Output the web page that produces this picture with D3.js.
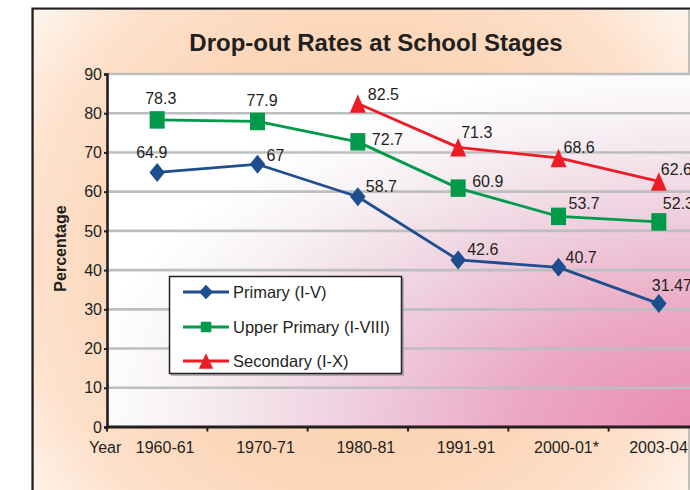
<!DOCTYPE html>
<html>
<head>
<meta charset="utf-8">
<script src="https://cdn.jsdelivr.net/npm/d3@7/dist/d3.min.js"></script>
<style>
  html, body { margin: 0; padding: 0; background: #ffffff; }
  svg { display: block; font-family: "Liberation Sans", Arial, sans-serif; }
</style>
</head>
<body>
<svg id="chart" width="690" height="490"></svg>
<script>
// ---------------- data ----------------
const categories = ["1960-61", "1970-71", "1980-81", "1991-91", "2000-01*", "2003-04"];
const primary      = [64.9, 67, 58.7, 42.6, 40.7, 31.47];
const upperPrimary = [78.3, 77.9, 72.7, 60.9, 53.7, 52.3];
const secondary    = [null, null, 82.5, 71.3, 68.6, 62.6];
const yTicks = [0, 10, 20, 30, 40, 50, 60, 70, 80, 90];
const seriesNames = ["Primary (I-V)", "Upper Primary (I-VIII)", "Secondary (I-X)"];
const title = "Drop-out Rates at School Stages";

// ---------------- layout / style ----------------
const colors = ["#1f4e8e", "#009a4a", "#ed1c24"];
const shapes = ["diamond", "square", "triangle"];
const ink = "#231f20";
// label nudges (text start x, baseline y) relative to each point
const labelNudge = [
  [[-21, -14], [9, -3], [8, -5], [9, -5], [7, -4], [-7, -13]],
  [[-12, -16], [-11, -15], [14, 3], [14, -1], [10, -7], [4, -13]],
  [null, null, [10, -3], [3, -9], [5, -5], [2, -6]]
];

const svg = d3.select("#chart");
const defs = svg.append("defs");

// frame background gradient
const fg = defs.append("radialGradient").attr("id", "frameGrad")
  .attr("gradientUnits", "userSpaceOnUse")
  .attr("cx", 360).attr("cy", 260).attr("r", 430);
[[0, "#fbcfa8"], [0.5, "#fcd6b8"], [0.75, "#fde0ca"], [1, "#fff9f4"]]
  .forEach(([o, c]) => fg.append("stop").attr("offset", o).attr("stop-color", c));

// plot background gradient (pink toward bottom-right)
const pg = defs.append("radialGradient").attr("id", "plotGrad")
  .attr("cx", 1).attr("cy", 1).attr("r", 1.05);
[[0, "#e98ab0"], [0.3, "#eba8c3"], [0.6, "#efd3e0"], [0.85, "#f8f3f6"], [1, "#ffffff"]]
  .forEach(([o, c]) => pg.append("stop").attr("offset", o).attr("stop-color", c));

// frame
const frameRight = 689;
svg.append("rect").attr("x", 33).attr("y", 9).attr("width", frameRight - 33).attr("height", 520)
  .attr("fill", "url(#frameGrad)").attr("stroke", "#9a9a9a").attr("stroke-width", 1.2);
svg.append("path").attr("d", "M32.5,540 V8.5 H700")
  .attr("fill", "none").attr("stroke", ink).attr("stroke-width", 2.2);

// scales
const plotL = 107, plotR = 709, plotT = 74, plotB = 427;
const x = d3.scaleBand().domain(categories).range([plotL, plotR]).padding(0);
const y = d3.scaleLinear().domain([0, 90]).range([plotB, plotT]);

// plot area
svg.append("rect").attr("x", plotL).attr("y", plotT)
  .attr("width", plotR - plotL).attr("height", plotB - plotT)
  .attr("fill", "url(#plotGrad)");

// gridlines
svg.append("g").selectAll("line").data(yTicks.filter(d => d > 0)).join("line")
  .attr("x1", plotL).attr("x2", plotR)
  .attr("y1", d => y(d)).attr("y2", d => y(d))
  .attr("stroke", "#bcbec0").attr("stroke-width", 2.6);

// title
svg.append("text").attr("x", 376).attr("y", 50.5).attr("text-anchor", "middle")
  .attr("font-size", 24).attr("font-weight", "bold").attr("fill", ink).text(title);

// y axis
const yAxis = svg.append("g").attr("transform", `translate(${plotL},0)`)
  .call(d3.axisLeft(y).tickValues(yTicks).tickSize(3).tickPadding(2).tickFormat(d3.format("d")));
yAxis.select(".domain").attr("stroke", ink).attr("stroke-width", 2.6);
yAxis.selectAll(".tick line").attr("stroke", ink).attr("stroke-width", 2);
yAxis.selectAll(".tick text").attr("font-size", 16).attr("fill", ink)
  .attr("font-family", "Liberation Sans, Arial, sans-serif");

// x axis (ticks at category boundaries)
const xAxisG = svg.append("g");
xAxisG.append("line").attr("x1", plotL - 1).attr("x2", plotR)
  .attr("y1", plotB).attr("y2", plotB).attr("stroke", ink).attr("stroke-width", 3);
xAxisG.selectAll("line.tk").data(categories).join("line").attr("class", "tk")
  .attr("x1", d => x(d)).attr("x2", d => x(d))
  .attr("y1", plotB).attr("y2", plotB + 4.5)
  .attr("stroke", ink).attr("stroke-width", 2);
xAxisG.selectAll("text.cat").data(categories).join("text").attr("class", "cat")
  .attr("x", d => x(d) + x.bandwidth() / 2 + 8)
  .attr("y", 453)
  .attr("text-anchor", "middle").attr("font-size", 16).attr("fill", ink).text(d => d)
  .each(function () {
    // keep category labels inside the frame's right edge
    const bb = this.getBBox();
    const over = bb.x + bb.width - (frameRight - 1);
    if (over > 0) d3.select(this).attr("x", +d3.select(this).attr("x") - over);
  });
svg.append("text").attr("x", 89).attr("y", 453).attr("font-size", 16).attr("fill", ink).text("Year");

// y axis title
svg.append("text").attr("transform", "translate(66,248.5) rotate(-90)")
  .attr("text-anchor", "middle").attr("font-size", 16).attr("font-weight", "bold")
  .attr("fill", ink).text("Percentage");

// markers
function markerPath(shape, w, h) {
  const hw = w / 2, hh = h / 2;
  if (shape === "diamond") return `M0,${-hh} L${hw},0 L0,${hh} L${-hw},0 Z`;
  if (shape === "square") return `M${-hw},${-hh} H${hw} V${hh} H${-hw} Z`;
  return `M0,${-hh} L${hw},${hh} L${-hw},${hh} Z`;
}
const markerSize = { diamond: [15.5, 19], square: [15, 17.5], triangle: [16, 18.5] };
const legendMarkerSize = { diamond: [14, 14.5], square: [10.5, 10.5], triangle: [14.5, 15.5] };

const allSeries = [primary, upperPrimary, secondary];
const cx = d => x(d) + x.bandwidth() / 2;

allSeries.forEach((vals, si) => {
  const pts = categories.map((c, i) => ({ c, v: vals[i], i })).filter(p => p.v != null);
  const line = d3.line().x(p => cx(p.c)).y(p => y(p.v));
  svg.append("path").datum(pts).attr("d", line)
    .attr("fill", "none").attr("stroke", colors[si]).attr("stroke-width", 2.8)
    .attr("stroke-linejoin", "round");
  const [mw, mh] = markerSize[shapes[si]];
  svg.append("g").selectAll("path").data(pts).join("path")
    .attr("transform", p => `translate(${cx(p.c)},${y(p.v)})`)
    .attr("d", markerPath(shapes[si], mw, mh)).attr("fill", colors[si]);
});

// data labels
allSeries.forEach((vals, si) => {
  const pts = categories.map((c, i) => ({ c, v: vals[i], i })).filter(p => p.v != null);
  svg.append("g").selectAll("text").data(pts).join("text")
    .attr("x", p => cx(p.c) + labelNudge[si][p.i][0])
    .attr("y", p => y(p.v) + labelNudge[si][p.i][1])
    .attr("font-size", 16).attr("fill", ink).text(p => String(p.v));
});

// legend
const lg = svg.append("g");
lg.append("rect").attr("x", 171).attr("y", 278).attr("width", 233).attr("height", 98)
  .attr("fill", "#8a8a8a").attr("opacity", 0.6);
lg.append("rect").attr("x", 169.5).attr("y", 276.5).attr("width", 232).attr("height", 97)
  .attr("fill", "#ffffff").attr("stroke", ink).attr("stroke-width", 1.5);
const rowY = [292, 327, 361];
seriesNames.forEach((name, i) => {
  lg.append("line").attr("x1", 183).attr("x2", 229).attr("y1", rowY[i]).attr("y2", rowY[i])
    .attr("stroke", colors[i]).attr("stroke-width", 3);
  const [mw, mh] = legendMarkerSize[shapes[i]];
  lg.append("path").attr("transform", `translate(206,${rowY[i]})`)
    .attr("d", markerPath(shapes[i], mw, mh)).attr("fill", colors[i]);
  lg.append("text").attr("x", 233).attr("y", rowY[i] + 5.5)
    .attr("font-size", 16.5).attr("fill", ink).text(name);
});
</script>
</body>
</html>
